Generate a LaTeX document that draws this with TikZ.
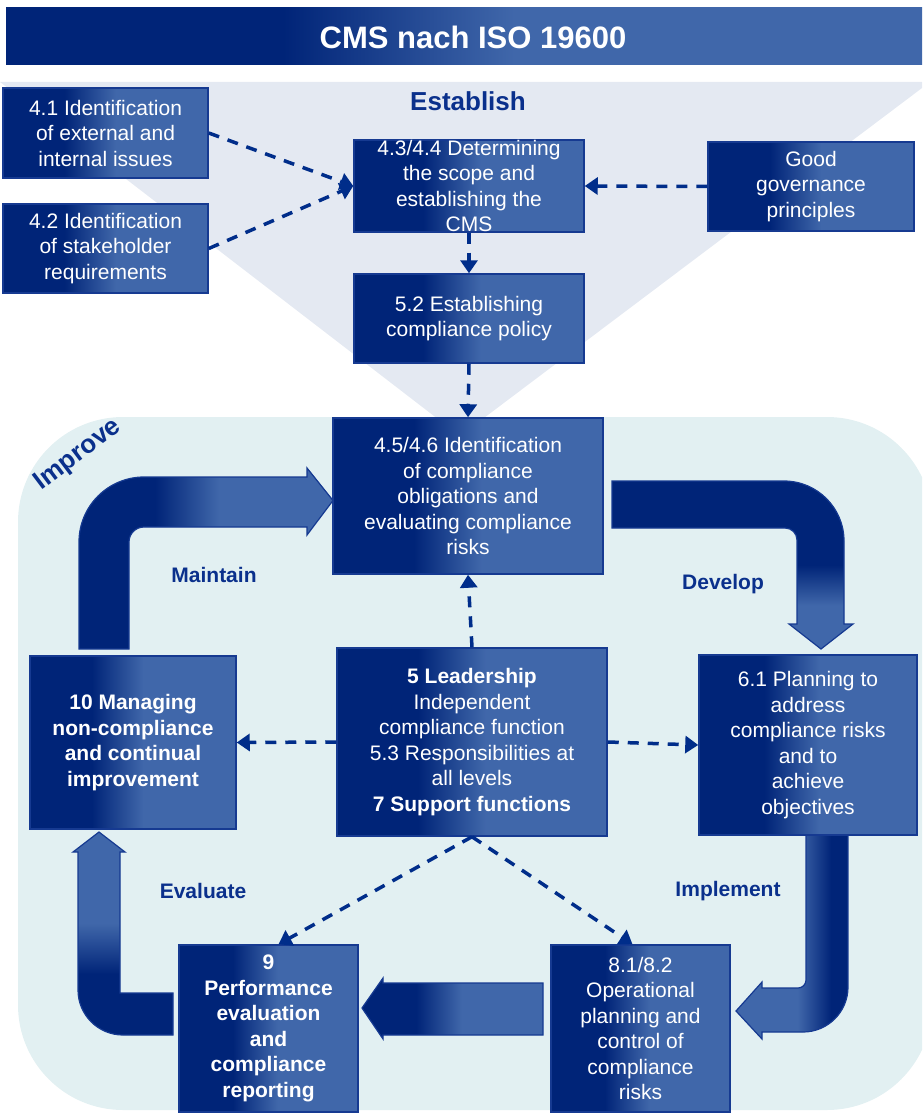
\documentclass[tikz,border=0pt]{standalone}
\usepackage{fontspec}
\setmainfont{Liberation Sans}
\usetikzlibrary{arrows.meta}
\definecolor{dk}{RGB}{0,36,120}
\definecolor{lt}{RGB}{64,103,170}
\definecolor{bdr}{RGB}{22,58,145}
\definecolor{dcol}{RGB}{0,45,138}
\definecolor{lbl}{RGB}{10,48,140}
\definecolor{tri}{RGB}{228,233,242}
\definecolor{impr}{RGB}{226,240,242}
\pgfdeclarehorizontalshading{boxshade}{100bp}{color(0bp)=(dk); color(40bp)=(dk); color(52.5bp)=(lt); color(100bp)=(lt)}
\pgfdeclarehorizontalshading{shadeB}{100bp}{color(0bp)=(dk); color(50bp)=(dk); color(62bp)=(lt); color(100bp)=(lt)}
\pgfdeclarehorizontalshading{shadeC}{100bp}{color(0bp)=(lt); color(52.5bp)=(lt); color(67.5bp)=(dk); color(100bp)=(dk)}
\newcommand\boxfont{\fontsize{21}{25.5}\selectfont}
\newcommand\lblfont{\fontsize{21}{25}\selectfont\bfseries}
\tikzset{
  box/.style={draw=bdr, line width=1.5pt, shading=boxshade, text=white, align=center,
    inner sep=0pt, font=\boxfont},
  bbox/.style={box, font=\boxfont\bfseries},
  dline/.style={draw=dcol, line width=3.5pt, dash pattern=on 11pt off 9pt,
    -{Triangle[length=13pt,width=17pt]}},
  blockarrow/.style={draw=bdr, line width=1.2pt},
  steplabel/.style={text=lbl, font=\lblfont, inner sep=0pt},
}
\begin{document}
\begin{tikzpicture}[x=1pt, y=1pt]
\useasboundingbox (0,0) rectangle (922,-1113);
\clip (0,0) rectangle (922,-1113);
% backgrounds
\fill[tri] (0,-82) -- (930,-82) -- (460,-436) -- cycle;
\fill[impr, rounded corners=105pt] (18,-417) rectangle (932,-1110);
% title bar
\shade[shading=boxshade] (6,-8) rectangle (930,-65);
\node[text=white, font=\fontsize{31}{36}\selectfont\bfseries, inner sep=0pt] (title) at (473,-37) {CMS nach ISO 19600};
\node[text=lbl, font=\fontsize{26}{30}\selectfont\bfseries, inner sep=0pt] (establish) at (468,-101) {Establish};
\node[text=lbl, font=\fontsize{26}{30}\selectfont\bfseries, inner sep=0pt, rotate=37] (improve) at (78,-455) {Improve};

% block arrows
\path[blockarrow, shading=boxshade]
  (79,-649) -- (79,-542) arc[start angle=180, end angle=90, radius=65]
  -- (307,-477) -- (307,-468) -- (333,-500.5) -- (307,-535) -- (307,-527)
  -- (144,-527) arc[start angle=90, end angle=180, radius=15]
  -- (129,-649) -- cycle;
\path[blockarrow, shading=shadeB, shading angle=-90]
  (612,-481) -- (784,-481) arc[start angle=90, end angle=0, radius=60]
  -- (844,-624) -- (853,-624) -- (821,-649) -- (789,-624) -- (797,-624)
  -- (797,-540) arc[start angle=0, end angle=90, radius=12]
  -- (612,-528) -- cycle;
\path[blockarrow, shading=shadeC]
  (806,-835) -- (848,-835) -- (848,-987) arc[start angle=0, end angle=-90, radius=45]
  -- (762,-1032) -- (762,-1039) -- (736,-1011) -- (762,-982) -- (762,-988)
  -- (798,-988) arc[start angle=-90, end angle=0, radius=8]
  -- cycle;
\path[blockarrow, shading=boxshade]
  (543,-983) -- (383,-983) -- (383,-978) -- (362,-1008) -- (383,-1039)
  -- (383,-1035) -- (543,-1035) -- cycle;
\path[blockarrow, shading=boxshade, shading angle=90]
  (173,-993) -- (120,-993) -- (120,-852) -- (125,-852) -- (99,-832)
  -- (73,-852) -- (78,-852) -- (78,-990) arc[start angle=180, end angle=270, radius=45]
  -- (173,-1035) -- cycle;

% boxes
\node[box, minimum width=205, minimum height=90] (b41) at (105.5,-133) {4.1 Identification\\of external and\\internal issues};
\node[box, minimum width=205, minimum height=89] (b42) at (105.5,-248.5) {4.2 Identification\\of stakeholder\\requirements};
\node[box, minimum width=230, minimum height=90] (b43) at (469,-186) {4.3/4.4 Determining\\the scope and\\establishing the\\CMS};
\node[box, minimum width=206, minimum height=89] (bgg) at (811,-186.5) {Good\\governance\\principles};
\node[box, minimum width=230, minimum height=89] (b52) at (469,-318.5) {5.2 Establishing\\compliance policy};
\node[box, minimum width=270, minimum height=156] (b45) at (468,-496) {4.5/4.6 Identification\\of compliance\\obligations and\\evaluating compliance\\risks};
\node[bbox, minimum width=206, minimum height=173] (b10) at (133,-742.5) {10 Managing\\non-compliance\\and continual\\improvement};
\node[box, minimum width=270, minimum height=188] (b5) at (472,-742) {\textbf{5 Leadership}\\Independent\\compliance function\\5.3 Responsibilities at\\all levels\\\textbf{7 Support functions}};
\node[box, minimum width=218, minimum height=180] (b61) at (808,-745) {6.1 Planning to\\address\\compliance risks\\and to\\achieve\\objectives};
\node[bbox, minimum width=179, minimum height=167] (b9) at (268.5,-1028.5) {9\\Performance\\evaluation\\and\\compliance\\reporting};
\node[box, minimum width=179, minimum height=167] (b81) at (640.5,-1028.5) {8.1/8.2\\Operational\\planning and\\control of\\compliance\\risks};

% labels
\node[steplabel] (maintain) at (214,-575) {Maintain};
\node[steplabel] (develop) at (723,-584) {Develop};
\node[steplabel] (evaluate) at (203,-891) {Evaluate};
\node[steplabel] (implement) at (728,-891) {Implement};

% dashed connectors
\draw[dline] (b41.east) -- (b43.west);
\draw[dline] (b42.east) -- (b43.west);
\draw[dline] (bgg.west) -- (b43.east);
\draw[dline] (b43.south) -- (b52.north);
\draw[dline] (b52.south) -- (b45.north);
\draw[dline] (b5.north) -- (b45.south);
\draw[dline] (b5.west) -- (b10.east);
\draw[dline] (b5.east) -- (b61.west);
\draw[dline] (b5.south) -- ([xshift=10pt]b9.north);
\draw[dline] (b5.south) -- ([xshift=-8pt]b81.north);
\end{tikzpicture}
\end{document}
